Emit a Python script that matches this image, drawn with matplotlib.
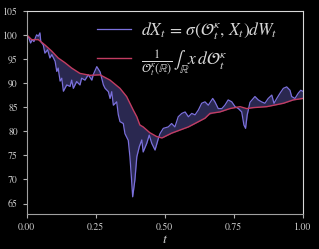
import numpy as np
import matplotlib
matplotlib.use("Agg")
import matplotlib.pyplot as plt

plt.rcParams['mathtext.fontset'] = 'stix'
plt.rcParams['font.family'] = 'STIXGeneral'

# path of the process X_t
t_path = [0.000, 0.008, 0.014, 0.020, 0.026, 0.036, 0.042, 0.048, 0.051, 0.060,
          0.066, 0.076, 0.084, 0.091, 0.103, 0.109, 0.114, 0.121, 0.127, 0.133,
          0.145, 0.157, 0.163, 0.169, 0.181, 0.193, 0.199, 0.211, 0.223, 0.236,
          0.241, 0.254, 0.266, 0.278, 0.284, 0.296, 0.302, 0.308, 0.314, 0.326,
          0.332, 0.338, 0.350, 0.356, 0.368, 0.374, 0.380, 0.384, 0.392, 0.399,
          0.408, 0.417, 0.422, 0.435, 0.444, 0.453, 0.465, 0.477, 0.483, 0.495,
          0.513, 0.525, 0.537, 0.549, 0.562, 0.574, 0.586, 0.598, 0.610, 0.622,
          0.634, 0.646, 0.658, 0.674, 0.682, 0.694, 0.707, 0.718, 0.730, 0.743,
          0.755, 0.767, 0.779, 0.787, 0.793, 0.799, 0.809, 0.827, 0.839, 0.851,
          0.863, 0.875, 0.888, 0.896, 0.906, 0.918, 0.930, 0.942, 0.954, 0.960,
          0.972, 0.984, 0.993, 1.000]
x_path = [100.0, 99.3, 98.3, 99.0, 98.6, 100.0, 99.7, 100.4, 98.6, 97.9,
          96.2, 96.9, 95.2, 95.9, 94.5, 92.4, 93.1, 90.4, 91.0, 88.3,
          89.6, 89.3, 90.6, 88.9, 90.3, 89.6, 91.0, 90.6, 91.7, 90.6,
          91.7, 93.4, 92.3, 89.6, 88.9, 88.2, 86.8, 88.2, 85.4, 86.1,
          83.4, 82.0, 81.6, 79.5, 78.1, 74.7, 69.9, 66.4, 69.9, 74.7,
          76.8, 78.2, 75.7, 77.5, 79.2, 77.5, 76.1, 78.5, 79.5, 80.6,
          80.9, 81.6, 80.9, 83.0, 83.7, 84.0, 83.0, 83.7, 83.4, 84.4,
          85.8, 86.1, 85.4, 86.8, 86.1, 84.7, 84.7, 85.4, 86.5, 86.1,
          85.1, 84.7, 84.0, 81.3, 80.6, 83.4, 86.0, 87.2, 86.5, 86.1,
          85.8, 86.8, 87.5, 85.8, 86.8, 87.9, 88.9, 89.2, 88.5, 87.2,
          86.8, 87.9, 88.5, 88.3]

# mean of the measure O_t
t_mean = [0.000, 0.018, 0.042, 0.066, 0.091, 0.114, 0.139, 0.163, 0.193, 0.229,
          0.266, 0.302, 0.338, 0.362, 0.386, 0.399, 0.410, 0.422, 0.446, 0.471,
          0.490, 0.525, 0.586, 0.646, 0.664, 0.700, 0.736, 0.773, 0.797, 0.821,
          0.870, 0.930, 0.966, 1.000]
x_mean = [100.0, 99.0, 99.0, 97.9, 96.6, 95.2, 94.2, 93.1, 92.0, 91.6,
          91.7, 90.6, 88.9, 87.2, 84.4, 83.0, 81.3, 80.9, 79.7, 78.9,
          78.6, 79.6, 80.9, 82.7, 83.7, 84.0, 84.7, 85.1, 84.7, 84.9,
          85.1, 85.8, 86.5, 86.8]

blue = '#7b70dc'
red = '#c33d62'

fig = plt.figure(figsize=(3.19, 2.49), dpi=100, facecolor='black')
ax = fig.add_axes([0.0837, 0.1418, 0.8652, 0.8152])
ax.set_facecolor('black')

mean_on_path = np.interp(t_path, t_mean, x_mean)
ax.fill_between(t_path, x_path, mean_on_path, color='#2a2850', lw=0)
ax.plot(t_path, x_path, color=blue, lw=0.9,
        label=r'$dX_t \,=\, \sigma(\mathcal{O}^\kappa_t,\, X_t)dW_t$')
ax.plot(t_mean, x_mean, color=red, lw=1.0,
        label=r'$\frac{1}{\mathcal{O}^\kappa_t(\mathbb{R})}\int_\mathbb{R} x\, d\mathcal{O}^\kappa_t$')

ax.set_xlim(0, 1)
ax.set_ylim(62.9, 105)
ax.set_xticks([0, 0.25, 0.5, 0.75, 1.0])
ax.set_xticklabels(['0.00', '0.25', '0.50', '0.75', '1.00'])
ax.set_yticks([65, 70, 75, 80, 85, 90, 95, 100, 105])
ax.tick_params(colors='#b0b0b0', labelcolor='#d0d0d0', labelsize=7,
               length=3, width=0.8)
for side in ['left', 'bottom']:
    ax.spines[side].set_color('#a0a0a0')
for side in ['top', 'right']:
    ax.spines[side].set_color('#d8d8d8')
ax.set_xlabel('$t$', color='#d0d0d0', fontsize=10, labelpad=0)

leg = ax.legend(loc='upper right', bbox_to_anchor=(0.936, 0.989),
                frameon=False, fontsize=12.5,
                handlelength=1.95, handletextpad=0.6, labelspacing=0.35,
                borderaxespad=0.0, borderpad=0.4)
for txt in leg.get_texts():
    txt.set_color('#d8d8d8')

fig.savefig('out.png', dpi=100, facecolor='black')
